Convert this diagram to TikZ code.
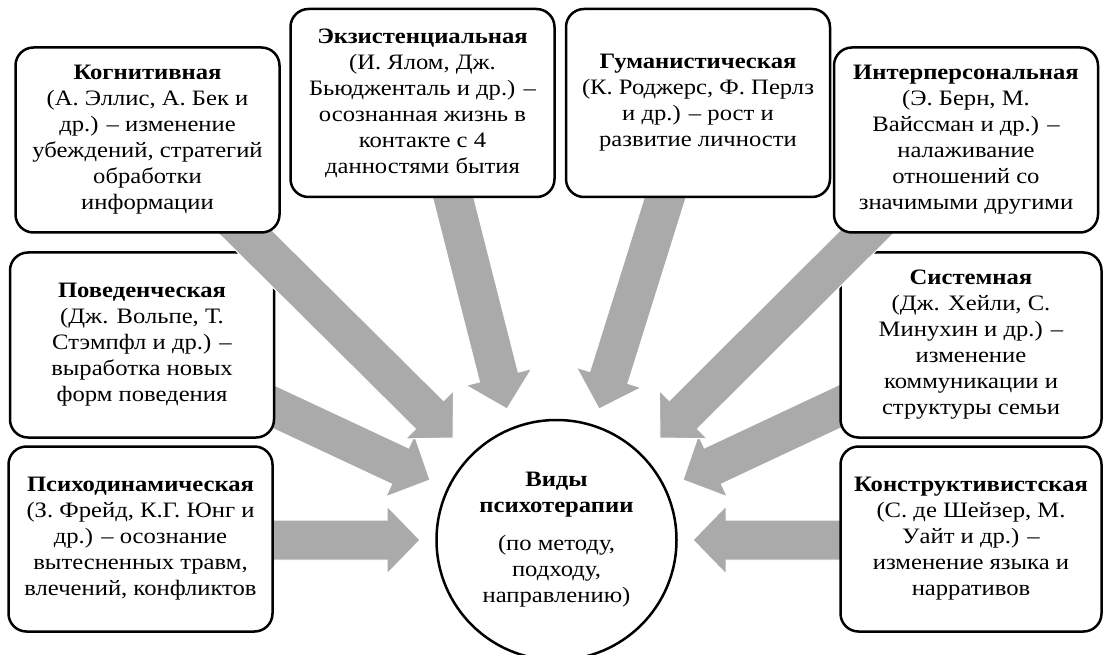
\documentclass[tikz,border=0pt]{standalone}
\usepackage{fontspec}
\setmainfont[FakeStretch=1.12]{Liberation Serif}
\usetikzlibrary{calc}
\definecolor{arrowgray}{RGB}{170,170,170}
\pgfdeclarelayer{under}
\pgfdeclarelayer{over}
\pgfdeclarelayer{top}
\pgfsetlayers{under,main,over,top}
% wide grey arrow: #1 start (hidden under a box), #2 tip
\newcommand{\blockarrow}[2]{%
  \path ($(#2)!\headl!(#1)$) coordinate (hb);
  \filldraw[arrowshape] ($(#1)!\shaftw!90:(#2)$) -- ($(hb)!\shaftw!90:(#2)$)
    -- ($(hb)!\headw!90:(#2)$) -- (#2) -- ($(hb)!\headw!-90:(#2)$)
    -- ($(hb)!\shaftw!-90:(#2)$) -- ($(#1)!\shaftw!-90:(#2)$) -- cycle;}

\begin{document}
\begin{tikzpicture}[x=1pt, y=-1pt, font=\fontsize{22}{26}\selectfont,
  box/.style={draw, line width=2.5pt, rounded corners=18pt, fill=white,
    align=center, minimum width=264pt, minimum height=185pt, inner sep=2pt},
  arrowshape/.style={fill=arrowgray, draw=white, line width=1pt}]
  % types of psychotherapy
    \def\shaftw{20pt}
    \def\headw{34pt}
    \def\headl{33pt}
    \useasboundingbox (0,0) rectangle (1104,655);

    \node[draw, circle, line width=2.5pt, fill=white, minimum size=240pt, align=center]
      (vidy) at (556.5,540) {\textbf{Виды}\\\textbf{психотерапии}\\[12pt](по методу,\\подходу,\\направлению)};

    \begin{pgfonlayer}{top}
    \node[box] (kog) at (147.5,140) {\textbf{Когнитивная}\\(А. Эллис, А. Бек и\\др.) – изменение\\убеждений, стратегий\\обработки\\информации};
    \node[box] (inter) at (966,140) {\textbf{Интерперсональная}\\(Э. Берн, М.\\Вайссман и др.) –\\налаживание\\отношений со\\значимыми другими};
    \end{pgfonlayer}
    \node[box, minimum height=188pt] (ekz) at (422.5,103) {\textbf{Экзистенциальная}\\(И. Ялом, Дж.\\Бьюдженталь и др.) –\\осознанная жизнь в\\контакте с 4\\данностями бытия};
    \node[box, minimum height=188pt] (gum) at (698,103) {\textbf{Гуманистическая}\\(К. Роджерс, Ф. Перлз\\и др.) – рост и\\развитие личности};
    \node[box] (pov) at (142,345) {\textbf{Поведенческая}\\(Дж. Вольпе, Т.\\Стэмпфл и др.) –\\выработка новых\\форм поведения};
    \node[box] (psy) at (140.5,539) {\textbf{Психодинамическая}\\(З. Фрейд, К.Г. Юнг и\\др.) – осознание\\вытесненных травм,\\влечений, конфликтов};
    \node[box, minimum width=261pt] (sys) at (971,345) {\textbf{Системная}\\(Дж. Хейли, С.\\Минухин и др.) –\\изменение\\коммуникации и\\структуры семьи};
    \node[box, minimum width=261pt] (kon) at (971,539) {\textbf{Конструктивистская}\\(С. де Шейзер, М.\\Уайт и др.) –\\изменение языка и\\нарративов};

    \coordinate (s1) at ($(kog.south)+(78.5,-21)$);
    \coordinate (s2) at ($(ekz.south)+(23.5,-29)$);
    \coordinate (s3) at ($(gum.south)+(-24,-29)$);
    \coordinate (s4) at ($(inter.south)+(-86,-15)$);
    \coordinate (s5) at ($(pov.east)+(-27,50)$);
    \coordinate (s6) at ($(psy.east)+(-33,1)$);
    \coordinate (s7) at ($(sys.west)+(25,50)$);
    \coordinate (s8) at ($(kon.west)+(33,1)$);
    \coordinate (t1) at ($(vidy.center)+(-103.5,-102)$);
    \coordinate (t2) at ($(vidy.center)+(-49.5,-131)$);
    \coordinate (t3) at ($(vidy.center)+(42.5,-131)$);
    \coordinate (t4) at ($(vidy.center)+(103.5,-102)$);
    \coordinate (t5) at ($(vidy.center)+(-126.5,-60)$);
    \coordinate (t6) at ($(vidy.center)+(-136.5,0)$);
    \coordinate (t7) at ($(vidy.center)+(126.5,-60)$);
    \coordinate (t8) at ($(vidy.center)+(136.5,0)$);

    \begin{pgfonlayer}{under}
    \blockarrow{s2}{t2}
    \blockarrow{s3}{t3}
    \blockarrow{s5}{t5}
    \blockarrow{s6}{t6}
    \blockarrow{s7}{t7}
    \blockarrow{s8}{t8}
    \end{pgfonlayer}
    \begin{pgfonlayer}{over}
    \blockarrow{s1}{t1}
    \blockarrow{s4}{t4}
    \end{pgfonlayer}
  \end{tikzpicture}
\end{document}
